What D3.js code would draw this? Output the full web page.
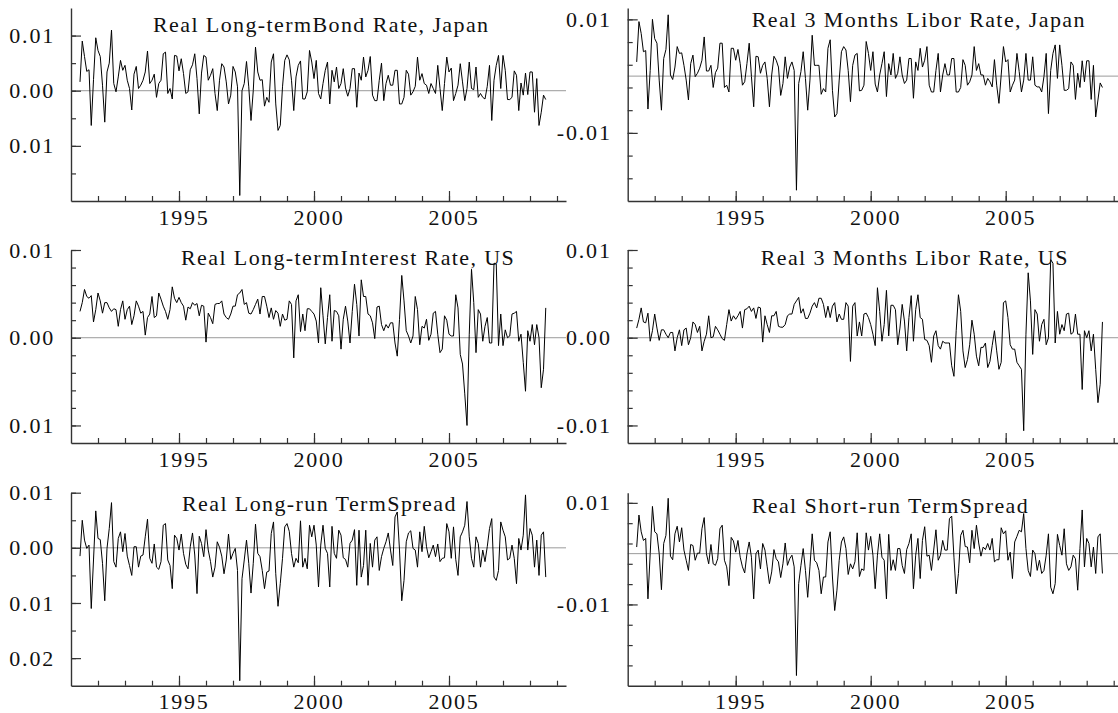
<!DOCTYPE html>
<html><head><meta charset="utf-8">
<script src="https://cdn.jsdelivr.net/npm/d3@7"></script>
<style>
body{margin:0;background:#fff}
svg{display:block}
text{font-family:"Liberation Serif","Times New Roman",serif;fill:#111}
</style>
</head><body>
<svg id="chart" width="1118" height="713"></svg>
<script>
// ---- data ----
const startYear = 1991, startMonth = 5;           // first observation: May 1991, monthly
const xMajorTicks = [1995, 2000, 2005];
const xMinorTicks = d3.range(1992, 2010);
const titles = [
  "Real Long-termBond Rate, Japan",
  "Real 3 Months Libor Rate, Japan",
  "Real Long-termInterest Rate, US",
  "Real 3 Months Libor Rate, US",
  "Real Long-run TermSpread",
  "Real Short-run TermSpread"
];
const yLabelsLeftA = [[0.01,"0.01"],[0,"0.00"],[-0.01,"0.01"]];
const yLabelsRightA = [[0.01,"0.01"],[-0.01,"-0.01"]];
const yLabelsRightB = [[0.01,"0.01"],[0,"0.00"],[-0.01,"-0.01"]];
const yLabelsLeftC = [[0.01,"0.01"],[0,"0.00"],[-0.01,"0.01"],[-0.02,"0.02"]];

const jpBond = [0.0016,0.009,0.0062,0.0035,0.0038,-0.0063,0.002,0.0096,0.0073,0.0062,
0.001,-0.0057,0.0034,0.005,0.011,0.0013,-0.0002,0.0025,0.0055,0.0037,
0.0046,0.0019,0.0004,-0.0035,0.003,0.0044,0.0004,0.001,0.0019,0.0034,
0.0072,0.0013,0.0019,0.003,-0.0012,0.0013,0.0019,0.0067,0.007,-0.0005,
0.0004,-0.0015,0.0064,0.0063,0.0036,0.0058,0.0031,-0.0005,-0.0002,0.0038,
0.0047,0.0067,0.0022,-0.0042,0.0032,0.0064,0.0061,0.0019,0.0028,0.004,
-0.0005,-0.0036,0.0019,0.0049,0.0043,0.0016,-0.0024,-0.0008,0.0044,0.0034,
0.0007,-0.019,
0.0,0.0013,0.0053,0.0007,-0.0054,0.0,0.0079,0.0034,0.0019,0.002,
-0.0028,-0.0012,-0.0021,0.0052,0.0067,-0.0024,-0.0072,-0.0063,0.0007,0.0055,
0.0065,0.0056,0.0019,-0.0036,0.0025,0.0046,0.0054,-0.0015,-0.0015,-0.0002,
0.0073,0.0052,0.0022,0.0055,-0.0005,-0.0015,0.0013,0.0037,0.0052,-0.0024,
0.0037,0.0016,0.0043,0.0004,0.0013,0.004,0.0005,-0.001,0.0004,0.004,
0.004,-0.003,0.0032,0.0019,0.0061,0.0025,0.0037,0.0062,-0.0008,-0.0018,
-0.0018,0.0019,0.005,-0.0018,0.0013,0.0028,0.001,0.001,0.0037,0.0037,
-0.0024,-0.0024,-0.0012,0.0037,0.003,-0.0008,-0.0002,0.0008,0.0061,0.0019,
0.0031,0.0013,0.001,-0.0005,0.0013,0.0004,-0.0005,0.0046,0.0004,-0.0036,
0.0013,0.0061,0.0034,0.0041,-0.0018,-0.0005,0.001,0.0049,0.0016,-0.0018,
0.0004,0.0052,0.0004,0.0002,0.0043,-0.0012,-0.0005,-0.0012,-0.0015,0.0008,
0.0046,-0.0054,0.0019,0.0046,0.0064,0.0004,0.0064,0.0037,-0.0016,-0.0016,
-0.0012,0.0036,0.0028,-0.0036,0.0014,-0.0008,0.0032,-0.0007,0.0034,0.0034,
-0.0039,0.0022,-0.0063,-0.0039,-0.0008,-0.0016];

const jpLibor = [0.0025,0.0096,0.0075,0.0043,0.0045,-0.0058,0.001,0.01,0.0066,0.0058,
-0.0007,-0.006,0.0031,0.0047,0.0108,0.0002,-0.0006,0.0016,0.0052,0.004,
0.0041,0.0019,-0.0007,-0.0042,0.0022,0.0037,-0.0001,0.0005,0.0014,0.0028,
0.0069,0.0009,0.0009,0.0019,-0.002,0.0006,0.0014,0.0058,0.0058,-0.002,
-0.0016,-0.0028,0.0049,0.0049,0.0028,0.0047,0.0022,-0.0016,-0.001,0.0022,
0.0058,-0.0001,-0.0054,0.0035,0.0034,0.0005,0.0019,0.0025,-0.0004,-0.0054,
0.0002,0.0035,0.0028,0.0016,-0.0034,-0.0013,0.0034,-0.0004,0.0016,0.0025,
0.001,-0.0201,
-0.0013,0.0008,0.0043,-0.0004,-0.006,-0.0007,0.0072,0.0019,0.0019,0.0019,
-0.0032,-0.0022,-0.0028,0.0049,0.0064,-0.0025,-0.0072,-0.0066,-0.0007,0.0043,
0.0052,0.0046,0.001,-0.0045,0.0019,0.0037,0.004,-0.0026,-0.0025,-0.0016,
0.0061,0.004,0.001,0.0043,-0.0014,-0.0028,0.0002,0.0022,0.0043,-0.0036,
0.0022,0.0002,0.004,-0.0004,0.0005,0.0034,0.0002,-0.0013,-0.0007,0.0031,
0.0031,-0.0039,0.0025,0.001,0.0049,0.0016,0.0028,0.0052,-0.0016,-0.0028,
-0.0028,0.001,0.004,-0.0028,0.0002,0.0022,0.0002,0.0002,0.0031,0.0031,
-0.0028,-0.0028,-0.002,0.0029,0.0019,-0.0016,-0.001,0.0002,0.0052,0.001,
0.0022,0.0002,0.0002,-0.0016,-0.0004,-0.001,-0.0019,0.0029,-0.0016,-0.0048,
0.0002,0.0052,0.0025,0.0029,-0.0028,-0.0016,-0.0007,0.004,0.0008,-0.0028,
-0.0007,0.004,-0.0007,-0.0007,0.0034,-0.0016,-0.0019,-0.0019,-0.0028,-0.0001,
0.004,-0.0066,0.001,0.004,0.0055,-0.0004,0.0055,0.0019,-0.0025,-0.0025,
-0.0022,0.0025,0.0019,-0.0041,0.0005,-0.002,0.0027,-0.001,0.0027,0.0027,
-0.0041,0.0019,-0.0072,-0.0042,-0.0012,-0.002];

const usLong = [0.003,0.004,0.0055,0.0047,0.0045,0.0048,0.0018,0.0032,0.0051,0.0042,
0.0028,0.004,0.004,0.0034,0.003,0.0033,0.0032,0.0013,0.0032,0.0042,
0.0021,0.0032,0.0036,0.0015,0.0025,0.0042,0.0036,0.0028,0.003,0.0003,
0.0023,0.0027,0.0047,0.0023,0.0025,0.0051,0.0044,0.0036,0.003,0.0021,
0.0032,0.0058,0.0045,0.004,0.0046,0.004,0.0036,0.002,0.0035,0.0033,
0.004,0.0037,0.0039,0.0025,0.0037,0.0036,-0.0005,0.0028,0.0023,0.0016,
0.0038,0.0039,0.0039,0.0042,0.0027,0.0023,0.0021,0.0027,0.0036,0.0036,
0.0049,0.0051,0.0055,0.0038,0.004,0.0028,0.0027,0.0032,0.0038,0.0044,
0.0027,0.0047,0.0047,0.0036,0.0023,0.0034,0.0021,0.0031,0.0028,0.0013,
0.0027,0.002,0.0021,0.0042,0.0038,-0.0023,0.0042,0.0049,0.0007,0.0027,
0.0008,0.0033,0.0033,0.003,0.0027,0.0019,-0.0006,0.0057,0.0025,-0.0007,
0.0023,0.0049,-0.0004,0.0031,0.003,0.0025,-0.0013,0.0021,0.0036,0.0019,
-0.0006,0.003,0.0061,0.0038,0.0002,0.0066,0.0047,0.0047,0.0027,0.0025,
0.0017,-0.0001,0.0035,0.0036,0.0015,0.0008,0.0015,0.0011,0.0017,0.0017,
-0.0006,-0.0021,0.0021,0.0071,0.0042,0.0008,0.0002,-0.0006,0.0002,0.0047,
0.0032,-0.0008,0.0013,0.0011,0.0021,-0.0003,0.0004,0.0028,0.003,0.0004,
-0.0017,-0.0013,0.0025,0.002,0.0004,0.0002,0.0002,0.0049,0.0034,-0.0019,
-0.003,-0.0064,-0.01,0.0004,0.0078,0.004,-0.0017,0.0032,0.0027,-0.0004,
0.0013,0.0023,-0.0006,-0.0006,0.0085,0.0084,-0.0009,0.0027,-0.0009,0.0009,
0.0,0.0002,0.0027,0.0028,0.003,-0.0004,0.0004,-0.0028,-0.0061,0.0008,
-0.0004,0.0015,-0.0008,0.0015,0.0,-0.0057,-0.0036,0.0034];

const usLibor = [0.0011,0.0021,0.0034,0.0018,0.0017,0.0028,-0.0004,0.0008,0.0027,0.0011,
-0.0003,0.0009,0.0009,0.0004,0.0,0.0006,0.0006,-0.0015,0.0,0.0009,
-0.0009,0.0009,0.0011,-0.0008,0.0,0.0018,0.0015,0.0006,0.0013,-0.0015,
-0.0004,0.0004,0.0025,0.0,0.0001,0.0013,0.0009,0.0004,-0.0001,-0.0003,
0.0015,0.0032,0.0019,0.0025,0.0021,0.0025,0.003,0.0011,0.0032,0.0033,
0.0036,0.003,0.0034,0.0022,0.0035,0.0034,-0.0005,0.0025,0.0015,0.0006,
0.0025,0.0025,0.003,0.0013,0.0012,0.0012,0.0015,0.0025,0.0027,0.0027,
0.0038,0.0042,0.0046,0.0028,0.0033,0.0022,0.0022,0.0028,0.0036,0.004,
0.0034,0.0045,0.0045,0.0038,0.0023,0.0036,0.0023,0.0036,0.004,0.0018,
0.0027,0.0021,0.0021,0.004,0.0036,-0.0027,0.0036,0.004,0.0002,0.0018,
0.0002,0.0027,0.0028,0.0023,0.0015,0.0004,-0.0009,0.0057,0.003,-0.0004,
0.0015,0.0054,0.0002,0.0037,0.0037,0.0032,-0.0008,0.0011,0.0038,0.0019,
-0.0015,0.0023,0.0048,-0.0004,0.0032,0.0049,0.0023,0.0021,-0.0002,-0.0003,
-0.0009,-0.0028,0.0002,0.0008,-0.0009,-0.0013,-0.0004,-0.0006,-0.0006,-0.0006,
-0.0032,-0.0044,0.0008,0.0049,0.003,-0.0015,-0.0034,-0.0025,-0.0008,0.002,
0.0004,-0.0021,-0.0032,-0.0011,-0.0011,-0.0006,-0.0034,-0.0027,-0.0009,0.0008,
-0.0015,-0.0036,-0.0028,
0.004,0.0042,0.0023,-0.0008,-0.0013,-0.0013,-0.0028,-0.0032,-0.0036,-0.0106,
0.0004,0.0074,0.0042,-0.0019,0.0032,0.0027,-0.0004,0.0015,0.0021,-0.0008,
0.0,0.0089,0.0085,-0.0006,0.003,0.0004,0.0015,0.0008,0.0027,0.0028,
0.0004,0.0006,0.0027,0.0004,0.0004,-0.0059,0.0008,0.0,0.0008,-0.0015,
0.0004,-0.0036,-0.0074,-0.0053,0.0018];

const longSpread = [-0.0015,0.005,0.0014,-0.0001,0.0005,-0.011,-0.0022,0.0067,0.0017,0.0015,
-0.0028,-0.0096,-0.0001,0.0035,0.0082,-0.0025,-0.0035,0.0017,0.0029,-0.0007,
0.0026,-0.0015,-0.0032,-0.005,0.0002,0.0002,-0.0035,-0.0015,-0.0013,0.002,
0.0052,-0.0019,-0.0028,0.0007,-0.0035,-0.0039,-0.0025,0.0041,0.0044,-0.0022,
-0.0032,-0.0074,0.0023,0.0017,-0.0004,0.0025,-0.001,-0.003,-0.0038,0.0002,
0.0027,-0.0013,-0.0083,0.0021,0.0008,-0.0016,0.0033,-0.0004,-0.0025,-0.0053,
-0.0035,0.0011,0.0001,-0.0015,-0.0047,-0.0022,0.0025,-0.0021,-0.001,-0.0001,
-0.0041,-0.0241,-0.0056,-0.0022,0.0014,-0.0028,-0.0082,-0.0028,0.0043,-0.001,
-0.0016,-0.0041,-0.0074,-0.0044,-0.0042,0.0026,0.0047,-0.0047,-0.0106,-0.0065,
-0.0019,0.0038,0.0044,
0.003,-0.001,-0.0035,-0.0019,-0.0027,0.0049,-0.0035,-0.0019,-0.0038,0.0041,
0.002,0.0041,0.0005,-0.0071,0.0005,0.0041,-0.0001,-0.001,-0.0071,0.0039,
-0.001,-0.0019,0.0032,0.0023,-0.0018,-0.0021,-0.0035,0.0008,0.0014,0.0033,
-0.0068,0.0032,-0.0053,-0.0032,0.0032,-0.0068,0.0008,-0.0035,0.0014,0.002,
-0.0041,-0.0016,-0.0001,0.0011,0.0027,-0.0004,-0.0032,0.0056,0.0065,-0.0004,
-0.0096,-0.0059,0.0011,0.0027,0.0031,-0.0001,-0.0004,-0.0035,0.0029,-0.0007,
0.0039,0.0002,-0.0018,-0.0007,0.0005,-0.0016,0.0007,-0.0025,-0.0019,-0.0018,
0.0044,0.0029,-0.0019,0.0038,-0.0021,-0.005,0.002,0.0029,0.0041,0.0084,
0.002,-0.0019,-0.0035,0.002,0.0008,-0.0035,-0.0004,-0.0025,0.0002,0.0035,
0.0053,-0.0053,-0.0059,-0.0041,0.0047,0.0032,0.002,-0.0022,-0.0019,0.0005,
-0.0019,-0.0065,0.0017,-0.0004,0.0023,0.0096,-0.0004,0.0035,0.0023,-0.0035,
0.0014,-0.005,0.0023,0.0029,-0.0053];

const shortSpread = [0.0013,0.0076,0.0043,0.0026,0.003,-0.0089,0.0,0.0093,0.0043,0.0039,
0.0,-0.0071,0.002,0.0036,0.0109,-0.0005,-0.0012,0.0039,0.0054,0.0023,
0.0051,0.0007,-0.0013,-0.0033,0.0018,0.0016,-0.0013,0.0001,0.0001,0.0049,
0.0071,0.0,-0.002,0.0018,-0.002,-0.0023,-0.001,0.0049,0.0056,-0.0013,
-0.0026,-0.0063,0.0032,0.0025,0.0003,0.0026,-0.0007,-0.0026,-0.0038,0.0,
0.0023,-0.0007,-0.0089,0.0,0.0007,-0.003,0.002,0.0007,-0.0026,-0.0059,
-0.0036,0.0008,-0.001,-0.0016,-0.0047,-0.002,0.0021,-0.0023,-0.001,-0.0003,
-0.0026,-0.024,-0.0059,-0.0023,0.001,-0.0033,-0.0086,-0.0026,0.0039,-0.0013,
-0.0018,-0.0033,-0.0079,-0.0046,-0.0046,0.0023,0.0043,-0.0046,-0.0112,-0.0072,
-0.0013,0.0023,0.0033,0.001,-0.0041,-0.002,-0.003,-0.0016,0.0041,-0.0045,
-0.003,-0.0033,0.0041,0.0007,0.0034,-0.0003,-0.0069,-0.0003,0.0039,-0.0007,
-0.0013,-0.0089,0.0038,-0.0033,-0.0012,-0.0033,0.001,0.001,-0.0023,-0.0039,
0.0008,0.002,0.0039,-0.0069,-0.0003,0.003,-0.0049,0.0026,0.0053,-0.0005,
-0.0003,-0.0033,0.0007,0.0047,-0.0013,-0.0003,0.0026,0.0007,0.0007,0.0069,
0.0074,-0.0007,-0.0079,-0.0039,0.0036,0.0046,0.0014,0.0013,-0.0018,0.0046,
0.001,0.0056,0.0021,-0.0005,0.0013,0.0008,0.002,0.0007,0.003,-0.0016,
-0.0012,-0.0012,0.0051,0.0039,0.0045,-0.0013,0.0003,-0.0049,0.0023,0.0034,
0.0046,0.0043,0.0079,0.001,-0.0033,-0.0045,0.0007,0.0,-0.0033,-0.0013,
-0.0039,-0.0033,-0.0003,0.0039,-0.0066,-0.0079,-0.0059,0.0038,0.0016,-0.0003,
0.0049,-0.002,-0.0033,-0.0026,-0.0003,-0.001,-0.0072,0.001,0.0086,-0.0026,
0.003,0.002,-0.0026,0.0013,-0.0039,0.0033,0.0039,-0.0039];

// ---- panel setup ----
const panels = [
  {title:titles[0], values:jpBond,     col:0,row:0, domain:[-0.02,0.015],  minor:d3.range(-0.015,0.0101,0.005), labels:yLabelsLeftA,  tx:82,  ty:24},
  {title:titles[1], values:jpLibor,    col:1,row:0, domain:[-0.022,0.012], minor:d3.range(-0.018,0.0101,0.004), labels:yLabelsRightA, tx:124, ty:19},
  {title:titles[2], values:usLong,     col:0,row:1, domain:[-0.012,0.01],  minor:d3.range(-0.01,0.0101,0.002),  labels:yLabelsLeftA,  tx:110, ty:15},
  {title:titles[3], values:usLibor,    col:1,row:1, domain:[-0.012,0.01],  minor:d3.range(-0.01,0.0101,0.002),  labels:yLabelsRightB, tx:133, ty:15},
  {title:titles[4], values:longSpread, col:0,row:2, domain:[-0.025,0.01],  minor:d3.range(-0.02,0.0101,0.005),  labels:yLabelsLeftC,  tx:111, ty:18},
  {title:titles[5], values:shortSpread,col:1,row:2, domain:[-0.026,0.012], minor:d3.range(-0.022,0.0101,0.004), labels:yLabelsRightA, tx:124, ty:20}
];

const colX = [71, 627.7];
const rowY = [8, 250, 492.7];
const W = 495, H = 193;

const svg = d3.select("#chart");
const x = d3.scaleLinear().domain([1991, 1991 + W/27]).range([0, W]);

panels.forEach(p => {
  const g = svg.append("g").attr("transform", `translate(${colX[p.col]},${rowY[p.row]})`);
  const y = d3.scaleLinear().domain(p.domain).range([H, 0]);
  const pts = p.values.map((v,i) => [startYear + (startMonth-1)/12 + i/12, v]);

  // zero line
  g.append("line")
    .attr("x1", 0).attr("x2", W)
    .attr("y1", y(0)).attr("y2", y(0))
    .attr("stroke", "#9a9a9a").attr("stroke-width", 1);

  // series
  g.append("path").datum(pts)
    .attr("fill","none").attr("stroke","#000").attr("stroke-width",1)
    .attr("stroke-linejoin","miter")
    .attr("d", d3.line().x(d=>x(d[0])).y(d=>y(d[1])));

  // y axis: minor ticks
  const yMinor = g.append("g").call(d3.axisLeft(y).tickValues(p.minor).tickSize(-5).tickSizeOuter(0).tickFormat(""));
  yMinor.select(".domain").remove();
  // y axis: major ticks + labels
  const lab = new Map(p.labels.map(d=>[d[0], d[1]]));
  const yMajor = g.append("g").call(d3.axisLeft(y).tickValues(p.labels.map(d=>d[0]))
      .tickSize(-10).tickSizeOuter(0).tickPadding(16).tickFormat(v => lab.get(v)));
  // x axis minor
  const xMinor = g.append("g").attr("transform",`translate(0,${H})`)
    .call(d3.axisBottom(x).tickValues(xMinorTicks).tickSize(-5).tickSizeOuter(0).tickFormat(""));
  xMinor.select(".domain").remove();
  const xMajor = g.append("g").attr("transform",`translate(0,${H})`)
    .call(d3.axisBottom(x).tickValues(xMajorTicks).tickSize(-10).tickSizeOuter(0).tickPadding(8).tickFormat(d3.format("d")));
  xMajor.selectAll("text").attr("dx", 4.5);

  g.selectAll(".domain").attr("stroke","#333").attr("stroke-width",1.4);
  g.selectAll(".tick line").attr("stroke","#333").attr("stroke-width",1.2);
  g.selectAll(".tick text")
    .attr("font-family",'"Liberation Serif","Times New Roman",serif')
    .attr("font-size", 22).attr("fill","#111")
    .style("letter-spacing","1.8px");

  // title
  g.append("text").attr("x", p.tx).attr("y", p.ty)
    .attr("font-size", 22).style("letter-spacing","1.4px")
    .text(p.title);
});
</script>
</body></html>
